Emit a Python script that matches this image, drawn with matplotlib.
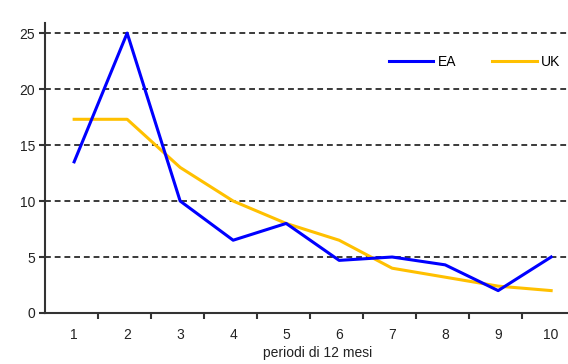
import numpy as np
import matplotlib.pyplot as plt

plt.rcParams['font.family'] = ['Liberation Sans', 'DejaVu Sans']

periods = [1, 2, 3, 4, 5, 6, 7, 8, 9, 10]
ea = [13.5, 25, 10, 6.5, 8, 4.7, 5, 4.3, 2, 5]
uk = [17.3, 17.3, 13, 10, 8, 6.5, 4, 3.2, 2.4, 2]
yticks = [0, 5, 10, 15, 20, 25]

fig = plt.figure(figsize=(5.68, 3.64), dpi=100)
ax = fig.add_axes([45/568, 51/364, 523/568, 290/364])

for y in yticks[1:]:
    ax.axhline(y, color='#3a3a3a', lw=1.4, dashes=(3, 2), zorder=1)

ax.plot(periods, ea, color='#0000ff', lw=2.2, label='EA', zorder=3)
ax.plot(periods, uk, color='#ffc000', lw=2.2, label='UK', zorder=2)

ax.set_xlim(0.45, 0.45 + 523/53)
ax.set_ylim(0, 25.9)
ax.set_yticks(yticks)
ax.set_xticks(np.arange(1, 10) + 0.45)
ax.set_xticklabels([])
for p in periods:
    ax.text(p, -2.0, str(p), ha='center', va='center', fontsize=10, color='#222222')
ax.text(5.6, -3.6, 'periodi di 12 mesi', ha='center', va='center', fontsize=10, color='#222222')

for s in ['top', 'right']:
    ax.spines[s].set_visible(False)
for s in ['left', 'bottom']:
    ax.spines[s].set_color('#333333')
    ax.spines[s].set_linewidth(1.5)
ax.tick_params(axis='y', length=4, width=1.5, color='#333333', labelsize=10, labelcolor='#222222', pad=3)
ax.tick_params(axis='x', length=4, width=1.5, color='#333333')

ax.legend(loc='center left', bbox_to_anchor=(344/523, 251/290), ncol=2, frameon=False,
          fontsize=10, handlelength=3.2, handletextpad=0.3, columnspacing=2.6,
          borderpad=0, borderaxespad=0)

fig.savefig('out.png', dpi=100)
